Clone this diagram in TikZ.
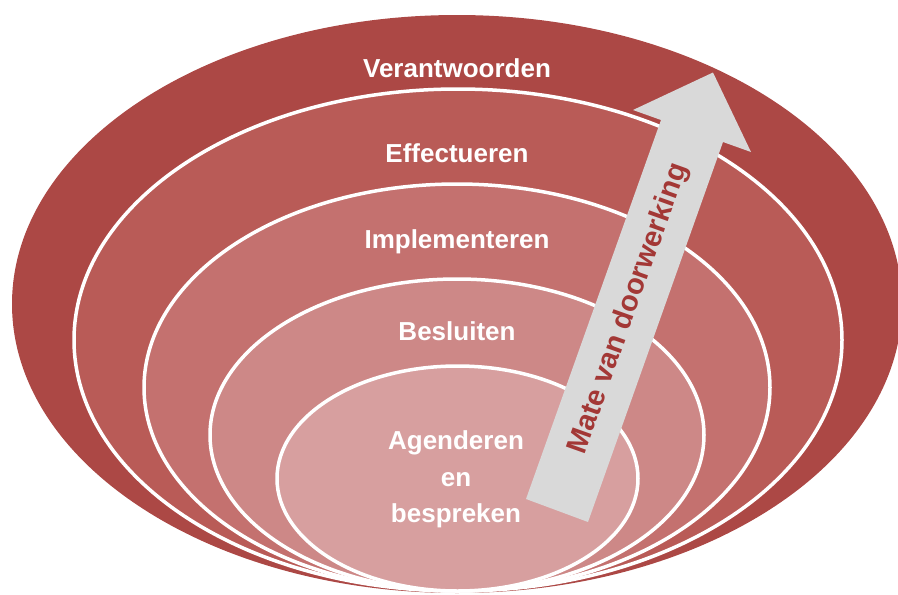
\documentclass[tikz,border=0pt]{standalone}
\usepackage{fontspec}
\setmainfont{Liberation Sans}
\definecolor{ringA}{RGB}{172,72,69}
\definecolor{ringB}{RGB}{185,91,87}
\definecolor{ringC}{RGB}{196,113,111}
\definecolor{ringD}{RGB}{205,136,135}
\definecolor{ringE}{RGB}{215,159,159}
\definecolor{arrowgray}{RGB}{217,217,217}
\definecolor{arrowtext}{RGB}{163,56,54}
\begin{document}
\begin{tikzpicture}[x=1pt,y=-1pt,
  ring/.style={draw=white, line width=3.5pt},
  ringlabel/.style={text=white, font=\bfseries\fontsize{26}{30}\selectfont,
    anchor=base, inner sep=0pt},
  arrowlabel/.style={text=arrowtext, font=\bfseries\fontsize{29}{32}\selectfont,
    inner sep=0pt, rotate=70.4}
]
\useasboundingbox (0,0) rectangle (898,595);

% nested rings, all resting on the same bottom point
\fill[ringA] (457,304) ellipse [x radius=445pt, y radius=289pt];
\filldraw[ringB, ring] (458,340) ellipse [x radius=384pt, y radius=251pt];
\filldraw[ringC, ring] (457,387.5) ellipse [x radius=313pt, y radius=203.5pt];
\filldraw[ringD, ring] (457,435) ellipse [x radius=247pt, y radius=156pt];
\filldraw[ringE, ring] (457.5,478.5) ellipse [x radius=180.5pt, y radius=112.5pt];

% rising arrow
\coordinate (baseL) at (526,499);
\coordinate (baseR) at (588,522);
\coordinate (neckR) at (723,142);
\coordinate (barbR) at (751,152);
\coordinate (tip)   at (713,72.5);
\coordinate (barbL) at (633,110);
\coordinate (neckL) at (661,120);
\fill[arrowgray] (baseL) -- (baseR) -- (neckR) -- (barbR) -- (tip)
  -- (barbL) -- (neckL) -- cycle;
\node[arrowlabel] (mate) at (629,309) {Mate van doorwerking};

% ring labels
\node[ringlabel] (verantwoorden) at (457,77) {Verantwoorden};
\node[ringlabel] (effectueren) at (457,162) {Effectueren};
\node[ringlabel] (implementeren) at (457,248) {Implementeren};
\node[ringlabel] (besluiten) at (457,340) {Besluiten};
\node[ringlabel] (agenderen) at (456,449) {Agenderen};
\node[ringlabel] (en) at (456,486) {en};
\node[ringlabel] (bespreken) at (456,522) {bespreken};
\end{tikzpicture}
\end{document}
